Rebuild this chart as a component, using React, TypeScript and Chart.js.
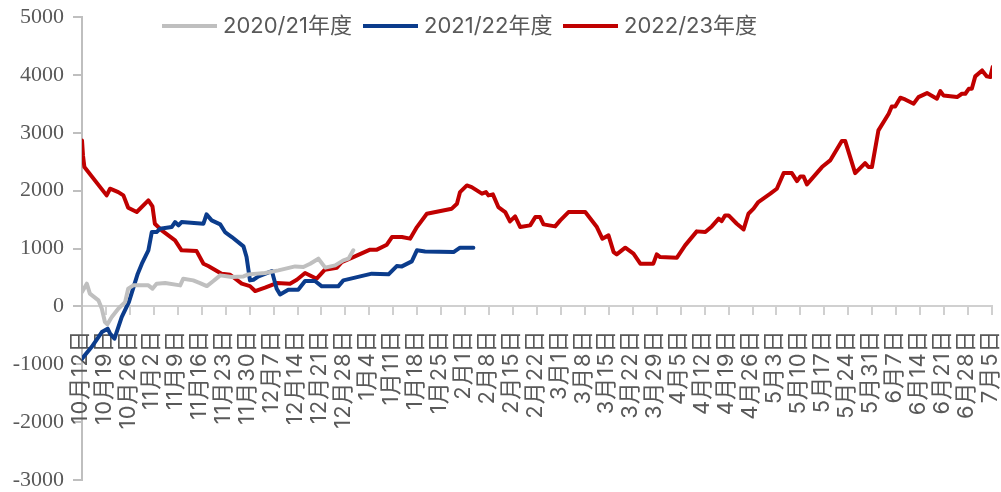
import React, { useEffect, useRef } from "react";
import { Chart, registerables } from "chart.js";

Chart.register(...registerables);

// Tick labels, one per week (index * 7 = day offset from 10月12日)
const TICK_LABELS = [
  "10月12日", "10月19日", "10月26日", "11月2日", "11月9日", "11月16日", "11月23日", "11月30日",
  "12月7日", "12月14日", "12月21日", "12月28日", "1月4日", "1月11日", "1月18日", "1月25日",
  "2月1日", "2月8日", "2月15日", "2月22日", "3月1日", "3月8日", "3月15日", "3月22日", "3月29日",
  "4月5日", "4月12日", "4月19日", "4月26日", "5月3日", "5月10日", "5月17日", "5月24日", "5月31日",
  "6月7日", "6月14日", "6月21日", "6月28日", "7月5日",
];

const SERIES_NAMES = ["2020/21年度", "2021/22年度", "2022/23年度"];

// 2020/21 season: day offset and value
const DAYS_2021 = [0, 1.4, 2.3, 4.8, 5.8, 6.7, 7.4, 8.7, 10.6, 12.6, 13.5, 15, 19.4, 20.6, 21.8, 24.3, 28.7, 29.6, 32.5, 34.5, 36.5, 38.4, 40.4, 43.8, 47.2, 48.6, 53.5, 57.4, 62.3, 64.7, 66.7, 69.1, 71.1, 74, 76.4, 77.9, 79.3];
const VALUES_2021 = [247, 392, 219, 104, -40, -271, -311, -185, -40, 74, 306, 363, 363, 306, 392, 403, 363, 478, 449, 403, 351, 438, 536, 506, 518, 553, 576, 622, 691, 679, 737, 824, 669, 708, 795, 824, 968];

// 2021/22 season
const DAYS_2122 = [0, 2.8, 5.8, 7.5, 8.2, 9.5, 11.6, 13.7, 16.3, 17.5, 19.4, 20.4, 21.8, 22.8, 26.2, 27.2, 28.2, 29.1, 35.5, 36.4, 37.9, 40.4, 41.8, 43.8, 47.2, 48.1, 49.1, 50.1, 51.6, 55.5, 56.9, 57.9, 60.3, 63.2, 65.2, 68.1, 70.1, 74.9, 76.4, 79.8, 84.7, 89.6, 92, 93.5, 96.4, 97.9, 100.3, 108.6, 110.5, 114.4];
const VALUES_2122 = [-904, -703, -444, -386, -472, -558, -185, 74, 565, 738, 968, 1284, 1284, 1342, 1370, 1457, 1399, 1457, 1428, 1589, 1486, 1417, 1284, 1198, 1037, 852, 449, 461, 518, 610, 306, 207, 288, 288, 438, 438, 346, 346, 449, 496, 565, 553, 697, 691, 778, 968, 950, 938, 1014, 1014];

// 2022/23 season
const DAYS_2223 = [0, 0.3, 0.7, 7.2, 8.2, 10.6, 12.1, 13.5, 16, 19.4, 20.6, 21.3, 23.3, 27.2, 29.1, 33.5, 35.5, 36.9, 40.8, 43.3, 46.7, 49.1, 50.6, 53.5, 56.9, 60.8, 62.8, 65.2, 68.6, 71, 74.5, 75.9, 79.3, 84.2, 86.2, 89.1, 90.6, 93.5, 95.9, 97.9, 100.8, 108.1, 109.6, 110.5, 112.5, 113.9, 116.9, 118.1, 118.8, 120.1, 121.7, 123.7, 125.1, 126.6, 128.1, 131, 132.5, 133.9, 134.9, 138.3, 139.8, 142.2, 147.1, 150.5, 152.1, 153.9, 155.4, 156.3, 158.8, 161.2, 163.2, 167, 168, 169, 173.9, 176.3, 179.7, 182.2, 184.1, 186.1, 187, 188, 189, 191.4, 193.4, 194.8, 196.3, 197.7, 201.2, 203.1, 205.1, 207.5, 209, 210, 210.9, 211.9, 216.3, 218.7, 222.1, 223.1, 226, 228.9, 229.9, 230.9, 232.8, 235.8, 236.7, 237.7, 239.2, 240.6, 243.1, 244.5, 247, 249.9, 250.9, 251.8, 255.8, 257.2, 258.2, 259.2, 260.1, 261.1, 263.1, 264.5, 265.5, 266.2];
const VALUES_2223 = [2868, 2600, 2407, 1918, 2033, 1975, 1918, 1705, 1630, 1831, 1727, 1428, 1313, 1140, 968, 955, 737, 697, 565, 547, 392, 351, 265, 323, 403, 392, 461, 576, 478, 634, 669, 765, 852, 980, 980, 1066, 1198, 1198, 1170, 1370, 1601, 1688, 1774, 1975, 2090, 2061, 1947, 1975, 1918, 1935, 1716, 1630, 1469, 1555, 1370, 1400, 1543, 1543, 1417, 1382, 1486, 1630, 1630, 1370, 1170, 1227, 938, 898, 1014, 910, 738, 738, 898, 852, 841, 1054, 1296, 1284, 1382, 1515, 1474, 1572, 1572, 1428, 1330, 1601, 1688, 1803, 1947, 2033, 2303, 2303, 2165, 2246, 2246, 2108, 2407, 2522, 2856, 2856, 2303, 2476, 2407, 2407, 3041, 3329, 3455, 3455, 3605, 3576, 3502, 3616, 3685, 3588, 3720, 3645, 3616, 3674, 3674, 3760, 3760, 3974, 4077, 3974, 3962, 4135];

const COLORS = ["#BFBFBF", "#0B3C8C", "#C00000"];
const TEXT_COLOR = "#595959";
const X_AXIS_COLOR = "#D0D0D0";
const Y_AXIS_COLOR = "#BFBFBF";
const SANS = 'Inter, "Noto Sans CJK SC", sans-serif';

const toPoints = (days: number[], values: number[]) =>
  days.map((d, i) => ({ x: d, y: values[i] }));

const legendPlugin = {
  id: "customLegend",
  afterDraw(chart: any) {
    const ctx = chart.ctx;
    const starts = [162, 363, 563];
    const y = 26;
    ctx.save();
    ctx.font = "22px " + SANS;
    ctx.textBaseline = "middle";
    ctx.textAlign = "left";
    SERIES_NAMES.forEach((name, i) => {
      const x = starts[i];
      ctx.strokeStyle = COLORS[i];
      ctx.lineWidth = 4;
      ctx.beginPath();
      ctx.moveTo(x, y);
      ctx.lineTo(x + 55, y);
      ctx.stroke();
      ctx.fillStyle = TEXT_COLOR;
      ctx.fillText(name, x + 61, y);
    });
    ctx.restore();
  },
};

// Draws the rotated x tick labels below the zero line
const xLabelPlugin = {
  id: "xLabels",
  beforeDatasetsDraw(chart: any) {
    const ctx = chart.ctx;
    const xs = chart.scales.x;
    const ys = chart.scales.y;
    const y0 = ys.getPixelForValue(0) + 23;
    ctx.save();
    ctx.font = "22px " + SANS;
    try { (ctx as any).letterSpacing = "1px"; } catch (e) { /* ignore */ }
    ctx.fillStyle = TEXT_COLOR;
    ctx.textAlign = "right";
    ctx.textBaseline = "middle";
    xs.ticks.forEach((t: any) => {
      const idx = Math.round(t.value / 7);
      const label = TICK_LABELS[idx];
      if (!label) return;
      const px = xs.getPixelForValue(t.value) - 2;
      ctx.save();
      ctx.translate(px, y0);
      ctx.rotate(-Math.PI / 2);
      ctx.fillText(label, 0, 0);
      ctx.restore();
    });
    ctx.restore();
  },
};

export default function App() {
  const canvasRef = useRef<HTMLCanvasElement | null>(null);

  useEffect(() => {
    const canvas = canvasRef.current;
    if (!canvas) return;
    const chart = new Chart(canvas, {
      type: "line",
      data: {
        datasets: [
          { label: SERIES_NAMES[0], data: toPoints(DAYS_2021, VALUES_2021), borderColor: COLORS[0], backgroundColor: COLORS[0] },
          { label: SERIES_NAMES[1], data: toPoints(DAYS_2122, VALUES_2122), borderColor: COLORS[1], backgroundColor: COLORS[1] },
          { label: SERIES_NAMES[2], data: toPoints(DAYS_2223, VALUES_2223), borderColor: COLORS[2], backgroundColor: COLORS[2] },
        ],
      },
      options: {
        animation: false,
        responsive: true,
        maintainAspectRatio: false,
        layout: { padding: { left: 0, top: 17, right: 9, bottom: 12 } },
        elements: {
          point: { radius: 0, hoverRadius: 0 },
          line: { borderWidth: 4, tension: 0, borderJoinStyle: "round", borderCapStyle: "round" },
        },
        plugins: {
          legend: { display: false },
          tooltip: { enabled: false },
        },
        scales: {
          x: {
            type: "linear",
            position: { y: 0 } as any,
            min: 0,
            max: 266,
            afterFit: (s: any) => { s.paddingLeft = 0; s.paddingRight = 0; s.paddingTop = 0; s.paddingBottom = 0; },
            grid: { drawOnChartArea: false, drawTicks: true, tickLength: 8, color: X_AXIS_COLOR, lineWidth: 2 },
            border: { display: true, color: X_AXIS_COLOR, width: 2 },
            ticks: {
              stepSize: 7,
              autoSkip: false,
              display: false,
              maxRotation: 0,
              callback: (v: any) => TICK_LABELS[Math.round(Number(v) / 7)] ?? "",
            },
          },
          y: {
            min: -3000,
            max: 5000,
            afterFit: (s: any) => { s.width = 82; s.paddingTop = 0; s.paddingBottom = 0; },
            grid: { drawOnChartArea: false, drawTicks: true, tickLength: 9, color: Y_AXIS_COLOR, lineWidth: 2 },
            border: { display: true, color: Y_AXIS_COLOR, width: 2 },
            ticks: {
              stepSize: 1000,
              padding: 9,
              color: TEXT_COLOR,
              font: { family: '"Liberation Serif", "Times New Roman", serif', size: 22 },
              callback: (v: any) => String(v),
            },
          },
        },
      },
      plugins: [legendPlugin, xLabelPlugin],
    });
    return () => chart.destroy();
  }, []);

  return (
    <div style={{ position: "absolute", left: 0, top: 0, width: 1001, height: 492 }}>
      <canvas ref={canvasRef} />
    </div>
  );
}
